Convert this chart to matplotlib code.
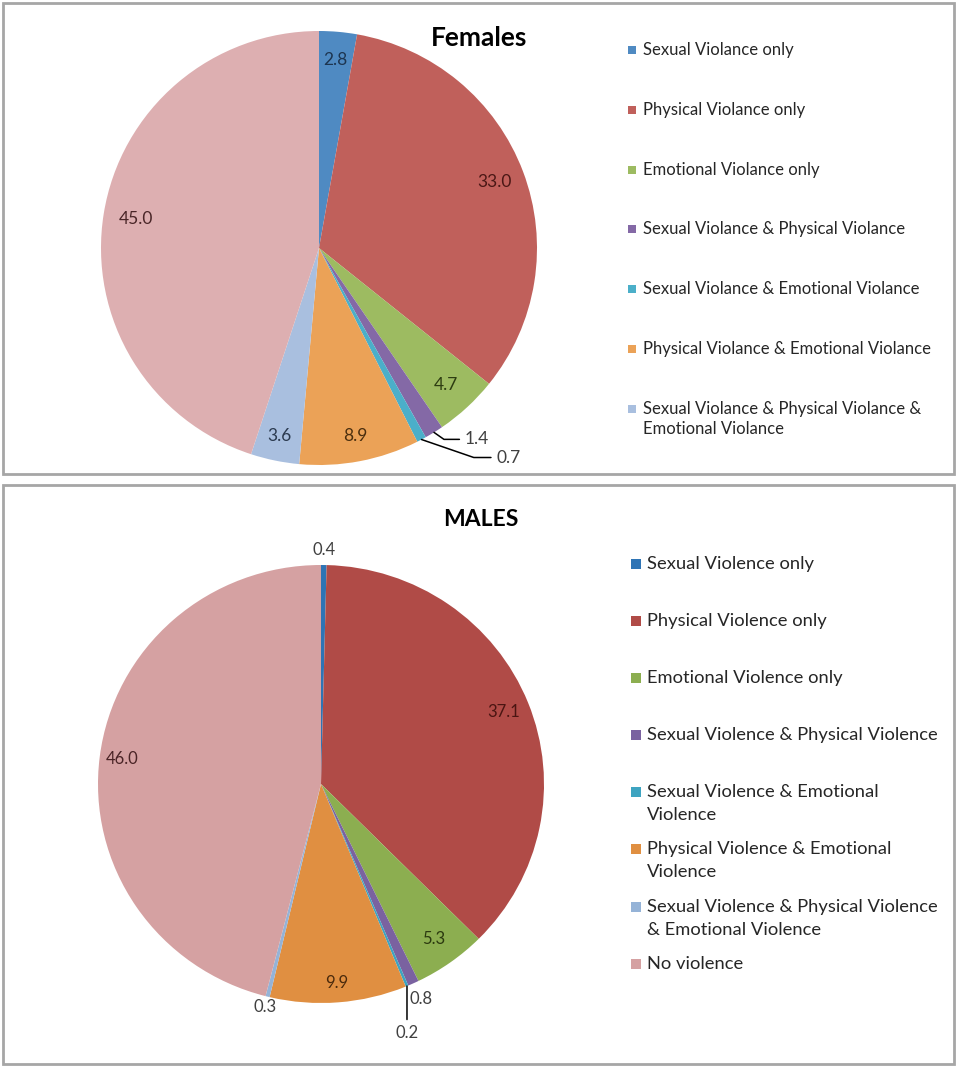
import numpy as np
import matplotlib
matplotlib.use("Agg")
from matplotlib import pyplot as plt
from matplotlib.patches import Rectangle

plt.rcParams['font.family'] = ['Lato', 'DejaVu Sans']

# ---- data ----
female_values = [2.8, 33.0, 4.7, 1.4, 0.7, 8.9, 3.6, 45.0]
female_labels = ["Sexual Violance only", "Physical Violance only", "Emotional Violance only",
                 "Sexual Violance & Physical Violance", "Sexual Violance & Emotional Violance",
                 "Physical Violance & Emotional Violance",
                 "Sexual Violance & Physical Violance &\nEmotional Violance"]
female_colors = ["#4f8ac2", "#c0605b", "#9dbb61", "#8469a6", "#4bafc9", "#eba257", "#a9bfdf", "#ddafb1"]

male_values = [0.4, 37.1, 5.3, 0.8, 0.2, 9.9, 0.3, 46.0]
male_labels = ["Sexual Violence only", "Physical Violence only", "Emotional Violence only",
               "Sexual Violence & Physical Violence", "Sexual Violence & Emotional\nViolence",
               "Physical Violence & Emotional\nViolence",
               "Sexual Violence & Physical Violence\n& Emotional Violence", "No violence"]
male_colors = ["#2e74b5", "#b04b47", "#8cae50", "#7a62a0", "#3ea4c1", "#e08f41", "#95b3d7", "#d5a1a2"]

W, H = 956, 1068
fig = plt.figure(figsize=(W / 100, H / 100), dpi=100)


def px_axes(cx, cy, rx, ry):
    # axes in pixel coords (y measured from top)
    return fig.add_axes([(cx - rx) / W, (H - cy - ry) / H, 2 * rx / W, 2 * ry / H])


def draw_pie(ax, values, colors, label_r, label_colors, special, fsize):
    wedges, _ = ax.pie(values, colors=colors, startangle=90, counterclock=False,
                       wedgeprops=dict(linewidth=0))
    ax.set_aspect('auto')
    ax.set_xlim(-1, 1)
    ax.set_ylim(-1, 1)
    for i, w in enumerate(wedges):
        mid = np.deg2rad((w.theta1 + w.theta2) / 2)
        x, y = np.cos(mid), np.sin(mid)
        txt = "%.1f" % values[i]
        if i in special:
            dx, dy, style, ha = special[i]
            ax.annotate(txt, xy=(x, y), xytext=(dx, dy), textcoords='offset pixels',
                        ha=ha, va='center', fontsize=fsize, color='#404040',
                        arrowprops=dict(arrowstyle='-', color='#000000', lw=1.1,
                                        connectionstyle=style,
                                        relpos=(0, 0.5) if ha == 'left' else (0.5, 1),
                                        shrinkA=2, shrinkB=0),
                        annotation_clip=False)
        else:
            r = label_r[i]
            ax.text(r * x, r * y, txt, ha='center', va='center', fontsize=fsize,
                    color=label_colors[i], clip_on=False)


# ---- frames ----
fig.patches.append(Rectangle((3 / W, (H - 474) / H), 951 / W, 471 / H, transform=fig.transFigure,
                             fill=False, edgecolor='#a6a6a6', lw=2))
fig.patches.append(Rectangle((3 / W, (H - 1064) / H), 951 / W, 579 / H, transform=fig.transFigure,
                             fill=False, edgecolor='#a6a6a6', lw=2))

# ---- females ----
ax1 = px_axes(319, 248, 218, 217)
f_label_r = [0.87, 0.86, 0.86, 0, 0, 0.88, 0.885, 0.85]
f_label_col = ['#1d3550', '#4a1715', '#2e3d12', '#2a1d3a', '#12333d', '#4a2e0e', '#2b3a4f', '#4a2628']
f_special = {3: (31, -7, "angle,angleA=0,angleB=-35,rad=0", 'left'),
             4: (75, -18, "angle,angleA=0,angleB=-19,rad=0", 'left')}
draw_pie(ax1, female_values, female_colors, f_label_r, f_label_col, f_special, 12.5)
fig.text(479 / W, 1 - 38 / H, "Females", ha='center', va='center', fontsize=19, fontweight='bold')

for i, lab in enumerate(female_labels):
    y0 = [50, 110, 170, 229, 289, 349, 409][i]
    fig.patches.append(Rectangle((628 / W, 1 - (y0 + 4) / H), 8 / W, 8 / H, transform=fig.transFigure,
                                 facecolor=female_colors[i], edgecolor='none'))
    for k, line in enumerate(lab.split('\n')):
        fig.text(643 / W, 1 - (y0 + 20 * k) / H, line, ha='left', va='center',
                 fontsize=12, color='#262626')

# ---- males ----
ax2 = px_axes(321, 784, 223, 219)
m_label_r = [1.07, 0.88, 0.87, 1.08, 0, 0.91, 1.05, 0.9]
m_label_col = ['#404040', '#4a1512', '#2c3a10', '#404040', '#404040', '#4a2a0c', '#404040', '#4a2426']
m_special = {4: (0, -47, "arc3", 'center')}
draw_pie(ax2, male_values, male_colors, m_label_r, m_label_col, m_special, 12)
fig.text(481 / W, 1 - 519 / H, "MALES", ha='center', va='center', fontsize=16.5, fontweight='bold')

for i, lab in enumerate(male_labels):
    y0 = [564, 621, 678, 735, 792, 849, 907, 964][i]
    fig.patches.append(Rectangle((631 / W, 1 - (y0 + 5) / H), 10 / W, 10 / H, transform=fig.transFigure,
                                 facecolor=male_colors[i], edgecolor='none'))
    for k, line in enumerate(lab.split('\n')):
        fig.text(647 / W, 1 - (y0 + 23 * k) / H, line, ha='left', va='center',
                 fontsize=13.2, color='#262626')

fig.savefig("out.png", dpi=100, facecolor='white')
